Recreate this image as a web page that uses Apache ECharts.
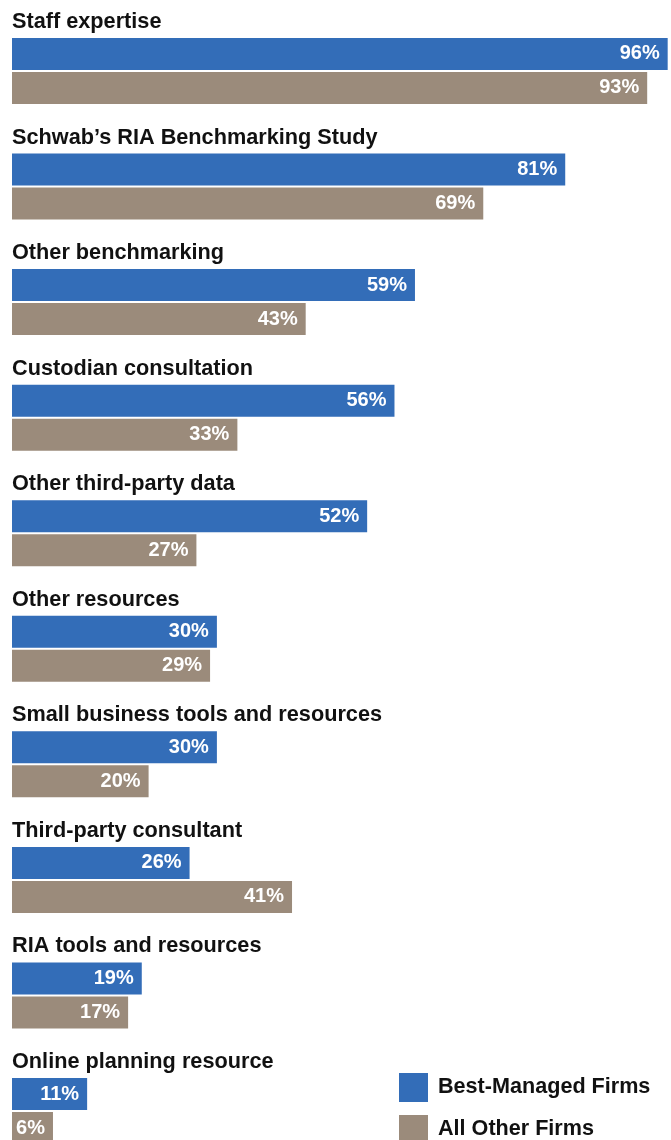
<!DOCTYPE html>
<html>
<head>
<meta charset="utf-8">
<script src="https://cdn.jsdelivr.net/npm/echarts@6/dist/echarts.min.js"></script>
<style>
  html, body { margin: 0; padding: 0; background: #fff; overflow: hidden; }
  /* the bars run past the right edge of the view, so the canvas is wider/taller than the window */
  #chart { width: 700px; height: 1180px; }
</style>
</head>
<body>
<div id="chart"></div>
<script>
const categories = [
  'Staff expertise',
  'Schwab\u2019s RIA Benchmarking Study',
  'Other benchmarking',
  'Custodian consultation',
  'Other third-party data',
  'Other resources',
  'Small business tools and resources',
  'Third-party consultant',
  'RIA tools and resources',
  'Online planning resource'
];
const bestManaged = [96, 81, 59, 56, 52, 30, 30, 26, 19, 11];
const allOther = [93, 69, 43, 33, 27, 29, 20, 41, 17, 6];

const FONT = '"Liberation Sans", Arial, sans-serif';
const BLUE = '#336db8';
const TAUPE = '#9b8b7b';

const chart = echarts.init(document.getElementById('chart'));

const barLabel = {
  show: true,
  position: 'insideRight',
  distance: 8,
  color: '#fff',
  fontFamily: FONT,
  fontWeight: 'bold',
  fontSize: 20,
  formatter: p => p.value + '%'
};

chart.setOption({
  animation: false,
  grid: { left: 12, top: 13.2, width: 683, height: 1155.6, containLabel: false },
  xAxis: {
    type: 'value',
    min: 0,
    max: 100,
    show: false
  },
  yAxis: {
    type: 'category',
    data: categories,
    inverse: true,
    axisLine: { show: false },
    axisTick: { show: false },
    splitLine: { show: false },
    axisLabel: {
      inside: true,
      interval: 0,
      showMinLabel: true,
      showMaxLabel: true,
      hideOverlap: false,
      margin: 0,
      align: 'left',
      verticalAlign: 'middle',
      // title sits above the pair of bars: push it up with an empty second line
      formatter: v => '{t|' + v + '}\n{s|}',
      rich: {
        t: {
          color: '#111',
          fontFamily: FONT,
          fontWeight: 'bold',
          fontSize: 21.7,
          lineHeight: 26
        },
        s: { height: 98, lineHeight: 98 }
      }
    }
  },
  legend: {
    orient: 'vertical',
    left: 399,
    top: 1073,
    padding: 0,
    icon: 'rect',
    itemWidth: 29,
    itemHeight: 29,
    itemGap: 13,
    textStyle: {
      color: '#111',
      fontFamily: FONT,
      fontWeight: 'bold',
      fontSize: 21.6,
      padding: [0, 0, 0, 5]
    },
    data: ['Best-Managed Firms', 'All Other Firms']
  },
  series: [
    {
      name: 'Best-Managed Firms',
      type: 'bar',
      data: bestManaged,
      barWidth: 32,
      barGap: '6.25%',
      itemStyle: { color: BLUE },
      label: barLabel
    },
    {
      name: 'All Other Firms',
      type: 'bar',
      data: allOther,
      barWidth: 32,
      itemStyle: { color: TAUPE },
      label: barLabel
    }
  ]
});
</script>
</body>
</html>
